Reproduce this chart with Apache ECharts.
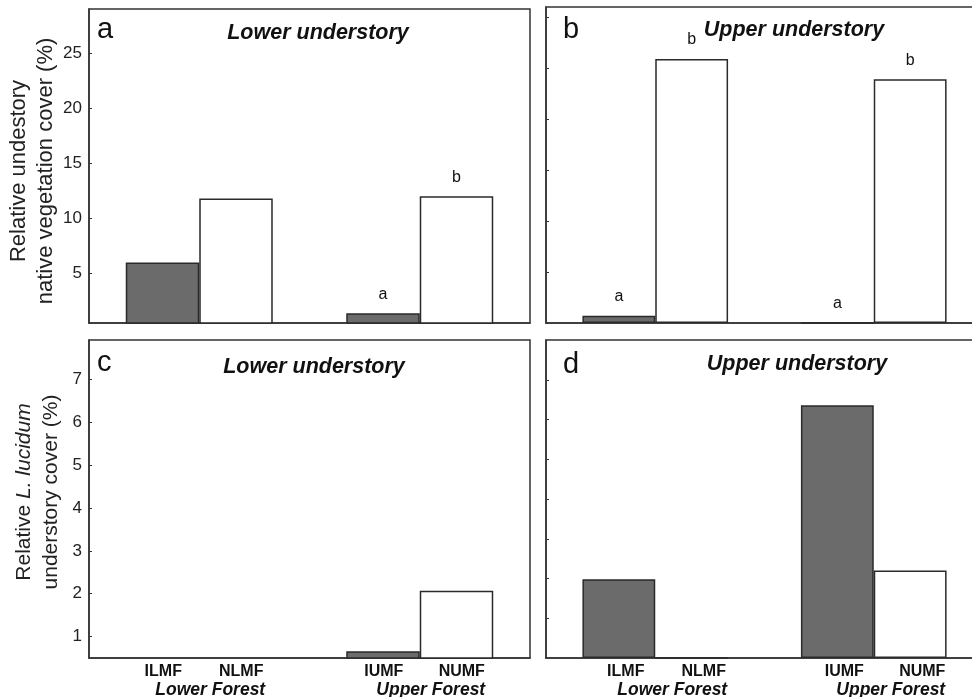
<!DOCTYPE html>
<html>
<head>
<meta charset="utf-8">
<script src="https://cdn.jsdelivr.net/npm/echarts@6/dist/echarts.min.js"></script>
<style>html,body{margin:0;padding:0;background:#fff}#c{width:972px;height:697px}</style>
</head>
<body>
<div id="c"></div>
<script>
// ---- data ----
const forests = ['Lower Forest', 'Upper Forest'];
const siteCodes = [['ILMF', 'NLMF'], ['IUMF', 'NUMF']];
const invadedA = [6.0, 1.38];
const nativeA = [11.8, 12.0];
const invadedB = [0.7, 0];
const nativeB = [25.9, 23.9];
const invadedC = [0, 0.66];
const nativeC = [0, 2.07];
const invadedD = [1.98, 6.36];
const nativeD = [0, 2.2];
const lettersInvA = ['', 'a'];
const lettersNatA = ['', 'b'];
const lettersInvB = ['a', 'a'];
const lettersNatB = ['b', 'b'];
const ticksA = [5, 10, 15, 20, 25];
const ticksB = [5, 10, 15, 20, 25, 30];
const ticksC = [1, 2, 3, 4, 5, 6, 7];
const ticksD = [1, 2, 3, 4, 5, 6, 7];
const panelLetters = ['a', 'b', 'c', 'd'];
const panelTitles = ['Lower understory', 'Upper understory', 'Lower understory', 'Upper understory'];

const FONT = 'Liberation Sans, Arial, sans-serif';
const LINE = '#333';
const chart = echarts.init(document.getElementById('c'), null, {renderer: 'canvas'});

const grids = [
  {left: 89, top: 9, width: 441, bottom: 374},
  {left: 546, top: 7, width: 437, bottom: 374},
  {left: 89, top: 340, width: 441, bottom: 39},
  {left: 546, top: 340, width: 437, bottom: 39}
].map(g => Object.assign({show: true, borderColor: LINE, borderWidth: 1.5, containLabel: false, outerBoundsMode: 'none'}, g));

function xAxis(i, showLabels, shift, gShift) {
  return {
    type: 'category', gridIndex: i, data: forests,
    axisLine: {show: true, lineStyle: {color: LINE, width: 1.5}},
    axisTick: {show: false},
    axisLabel: {
      show: showLabels, interval: 0, margin: 5, color: '#111', lineHeight: 18,
      formatter: (v, idx) => `{p|}{s|${siteCodes[idx][0]}}{s|${siteCodes[idx][1]}}\n{g|${v}}`,
      rich: {
        p: {width: 2 * shift},
        s: {width: 78, align: 'center', fontWeight: 'bold', fontSize: 16, fontFamily: FONT, color: '#111'},
        g: {fontStyle: 'italic', fontWeight: 'bold', fontSize: 17.5, fontFamily: FONT, color: '#111', padding: [0, 0, 0, gShift]}
      }
    },
    splitLine: {show: false}
  };
}

function yAxis(i, min, max, ticks, showLabels, name, nameGap, fs, lh, pad) {
  return {
    type: 'value', gridIndex: i, min: min, max: max,
    axisLine: {show: true, lineStyle: {color: LINE, width: 1.5}},
    axisTick: {show: true, inside: true, length: 3, customValues: ticks, lineStyle: {color: LINE}},
    axisLabel: {show: showLabels, customValues: ticks, fontSize: 17, fontFamily: FONT, color: '#222', margin: 7},
    splitLine: {show: false},
    name: name, nameLocation: 'middle', nameGap: nameGap, nameRotate: 90,
    nameTextStyle: {fontSize: fs, fontFamily: FONT, color: '#222', lineHeight: lh, padding: pad,
      rich: {i: {fontStyle: 'italic', fontSize: fs, fontFamily: FONT, color: '#222', lineHeight: lh}}}
  };
}

function bars(i, data, dark, letters) {
  return {
    type: 'bar', xAxisIndex: i, yAxisIndex: i, data: data,
    barGap: '0%', barCategoryGap: '33.34%', clip: true,
    itemStyle: {color: dark ? '#6b6b6b' : '#ffffff', borderColor: '#2a2a2a', borderWidth: 1.5},
    label: {
      show: !!letters, position: 'top', distance: 11,
      fontSize: 16, fontFamily: FONT, color: '#111',
      formatter: p => letters ? letters[p.dataIndex] : ''
    },
    silent: true, animation: false
  };
}

const graphics = [];
const letterPos = [[97, 30], [563, 30], [97, 363], [563, 365]];
const titlePos = [[318, 33], [794, 30], [314, 367], [797, 364]];
for (let k = 0; k < 4; k++) {
  graphics.push({type: 'text', x: letterPos[k][0], y: letterPos[k][1],
    style: {text: panelLetters[k], fontSize: 29, fontFamily: FONT, fill: '#111', verticalAlign: 'middle', align: 'left'}});
  graphics.push({type: 'text', x: titlePos[k][0], y: titlePos[k][1],
    style: {text: panelTitles[k], fontSize: 21.5, fontStyle: 'italic', fontWeight: 'bold', fontFamily: FONT, fill: '#111', verticalAlign: 'middle', align: 'center'}});
}

chart.setOption({
  animation: false,
  backgroundColor: '#fff',
  grid: grids,
  xAxis: [xAxis(0, false, 0, 0), xAxis(1, false, 0, 0), xAxis(2, true, 3, 22), xAxis(3, true, 9.5, 34)],
  yAxis: [
    yAxis(0, 0.5, 29, ticksA, true, 'Relative undestory\nnative vegetation cover (%)', 23, 22, 27, [0, 10, 0, 0]),
    yAxis(1, 0, 31, ticksB, false, '', 0, 21, 26, 0),
    yAxis(2, 0.5, 7.92, ticksC, true, 'Relative {i|L. lucidum}\nunderstory cover (%)', 24, 21, 27, [0, 0, 0, 14]),
    yAxis(3, 0, 8, ticksD, false, '', 0, 21, 26, 0)
  ],
  series: [
    bars(0, invadedA, true, lettersInvA), bars(0, nativeA, false, lettersNatA),
    bars(1, invadedB, true, lettersInvB), bars(1, nativeB, false, lettersNatB),
    bars(2, invadedC, true, null), bars(2, nativeC, false, null),
    bars(3, invadedD, true, null), bars(3, nativeD, false, null)
  ],
  graphic: graphics
});
</script>
</body>
</html>
